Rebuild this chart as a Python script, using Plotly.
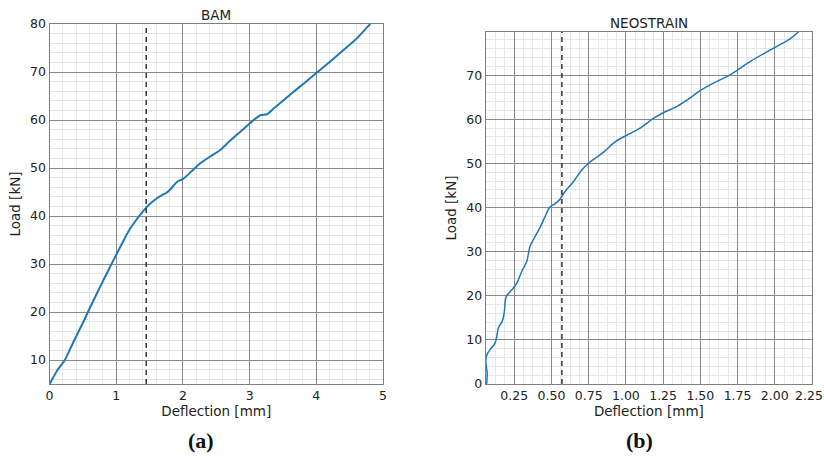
import plotly.graph_objects as go

# BAM data (deflection mm, load kN)
bam_defl = [0.0, 0.05, 0.12, 0.23, 0.32, 0.41, 0.50, 0.58, 0.67, 0.76, 0.88, 1.01, 1.10, 1.18, 1.28, 1.38, 1.46,
            1.53, 1.61, 1.68, 1.76, 1.84, 1.91, 2.01, 2.13, 2.26, 2.41, 2.56, 2.70, 2.84, 2.98, 3.08, 3.16, 3.26,
            3.36, 3.50, 3.66, 3.84, 4.01, 4.20, 4.40, 4.60, 4.78, 4.81]
bam_load = [5.0, 6.2, 7.9, 10.0, 12.6, 15.2, 17.7, 20.1, 22.7, 25.3, 28.6, 32.2, 34.6, 36.7, 38.8, 40.6, 41.9,
            42.8, 43.7, 44.3, 44.9, 46.0, 47.1, 47.8, 49.3, 51.0, 52.4, 53.75, 55.6, 57.3, 59.0, 60.2, 61.0, 61.2,
            62.4, 64.0, 65.9, 67.9, 69.9, 72.1, 74.5, 76.9, 79.6, 80.0]

# NEOSTRAIN data
neo_defl = [0.064, 0.068, 0.062, 0.059, 0.066, 0.085, 0.12, 0.136, 0.142, 0.172, 0.183, 0.19, 0.199, 0.232, 0.266,
            0.30, 0.333, 0.355, 0.378, 0.42, 0.456, 0.49, 0.525, 0.557, 0.59, 0.646, 0.703, 0.747, 0.848, 0.927,
            1.005, 1.095, 1.184, 1.251, 1.341, 1.43, 1.498, 1.587, 1.70, 1.834, 1.99, 2.10, 2.159]
neo_load = [0.0, 2.4, 4.0, 5.4, 6.6, 7.7, 9.2, 11.5, 12.6, 14.5, 16.4, 19.0, 20.0, 21.3, 22.8,
            25.5, 27.7, 31.1, 32.7, 35.3, 37.9, 40.1, 40.9, 41.9, 43.6, 45.8, 48.5, 50.0, 52.5, 54.9,
            56.4, 58.0, 60.2, 61.5, 62.9, 64.8, 66.5, 68.2, 70.1, 73.1, 76.1, 78.2, 79.8]

bam_yield = 1.45
neo_yield = 0.57

titles = ["BAM", "NEOSTRAIN"]
panel_labels = ["(a)", "(b)"]
bam_xticks = [0, 1, 2, 3, 4, 5]
bam_yticks = [10, 20, 30, 40, 50, 60, 70, 80]
neo_xticks = [0.25, 0.50, 0.75, 1.00, 1.25, 1.50, 1.75, 2.00, 2.25]
neo_yticks = [0, 10, 20, 30, 40, 50, 60, 70]

OFF = 0  # body margin removed by the post script below
W, H = 824, 460
line_color = "#1f77b4"
major_grid = "#8a8a8a"
minor_grid = "#e6e6e6"
font = "DejaVu Sans"
tick_font = dict(family=font, size=12.5, color="#222")

fig = go.Figure()
fig.add_trace(go.Scatter(x=bam_defl, y=bam_load, mode="lines",
                         line=dict(color=line_color, width=2, shape="spline", smoothing=0.6),
                         xaxis="x", yaxis="y", showlegend=False, hoverinfo="skip"))
fig.add_trace(go.Scatter(x=neo_defl, y=neo_load, mode="lines",
                         line=dict(color=line_color, width=1.5, shape="spline"),
                         xaxis="x2", yaxis="y2", showlegend=False, hoverinfo="skip"))


def px_x(p):
    return (p - OFF) / W


def px_y(p):
    return 1 - (p - OFF) / H


common = dict(showline=True, linecolor="#7f7f7f", linewidth=1, mirror=True, ticks="",
              showgrid=True, gridcolor=major_grid, gridwidth=1, zeroline=False,
              tickfont=tick_font, automargin=False,
              title_font=dict(family=font, size=13.5, color="#222"))

# last tick label of the right panel sits at the page edge; it is drawn as an annotation
neo_ticktext = ["%.2f" % v for v in neo_xticks[:-1]] + [""]

fig.update_layout(
    width=W, height=H, margin=dict(l=0, r=0, t=0, b=0),
    paper_bgcolor="white", plot_bgcolor="white",
    xaxis=dict(domain=[px_x(49.5), px_x(383)], range=[0, 5.0001], tickvals=bam_xticks,
               ticktext=[str(v) for v in bam_xticks],
               minor=dict(dtick=0.2, tick0=0, showgrid=True, gridcolor=minor_grid, gridwidth=1),
               title=dict(text="Deflection [mm]", standoff=3), anchor="y", **common),
    yaxis=dict(domain=[px_y(384), px_y(24)], range=[5, 80], tickvals=bam_yticks,
               minor=dict(dtick=2, tick0=0, showgrid=True, gridcolor=minor_grid, gridwidth=1),
               title=dict(text="Load [kN]", standoff=6), anchor="x", **common),
    xaxis2=dict(domain=[px_x(485.7), px_x(812)], range=[0.058, 2.2502], tickvals=neo_xticks,
                ticktext=neo_ticktext,
                minor=dict(dtick=0.0625, tick0=0, showgrid=True, gridcolor=minor_grid, gridwidth=1),
                title=dict(text="Deflection [mm]", standoff=3), anchor="y2", **common),
    yaxis2=dict(domain=[px_y(384), px_y(32)], range=[0, 79.8], tickvals=neo_yticks,
                minor=dict(dtick=2, tick0=0, showgrid=True, gridcolor=minor_grid, gridwidth=1),
                title=dict(text="Load [kN]", standoff=6), anchor="x2", **common),
)

fig.add_annotation(text="%.2f" % neo_xticks[-1], x=1.0, xref="paper", y=px_y(395), yref="paper",
                   xanchor="right", yanchor="middle", showarrow=False, font=tick_font,
                   borderpad=0, xshift=0)

# dashed vertical lines
fig.add_shape(type="line", xref="x", yref="y domain", x0=bam_yield, x1=bam_yield, y0=0, y1=1,
              line=dict(color="#333333", width=1.5, dash="5px,4px"))
fig.add_shape(type="line", xref="x2", yref="y2 domain", x0=neo_yield, x1=neo_yield, y0=0, y1=1,
              line=dict(color="#333333", width=1.5, dash="5px,4px"))

# titles
fig.add_annotation(text=titles[0], x=(px_x(49.5) + px_x(383)) / 2, y=px_y(15), xref="paper", yref="paper",
                   xanchor="center", yanchor="middle",
                   showarrow=False, font=dict(family=font, size=13.5, color="#222"))
fig.add_annotation(text=titles[1], x=(px_x(485.7) + px_x(812)) / 2, y=px_y(23), xref="paper", yref="paper",
                   xanchor="center", yanchor="middle",
                   showarrow=False, font=dict(family=font, size=13.5, color="#222"))

# panel labels
fig.add_annotation(text="<b>" + panel_labels[0] + "</b>", x=px_x(201), y=px_y(440), xref="paper", yref="paper",
                   xanchor="center", yanchor="middle",
                   showarrow=False, font=dict(family="Liberation Serif", size=22, color="#111"))
fig.add_annotation(text="<b>" + panel_labels[1] + "</b>", x=px_x(639), y=px_y(440), xref="paper", yref="paper",
                   xanchor="center", yanchor="middle",
                   showarrow=False, font=dict(family="Liberation Serif", size=22, color="#111"))

fig.write_html("out.html",
               config={"displayModeBar": False, "staticPlot": True},
               post_script="document.body.style.margin='0';document.body.style.overflow='hidden';")
